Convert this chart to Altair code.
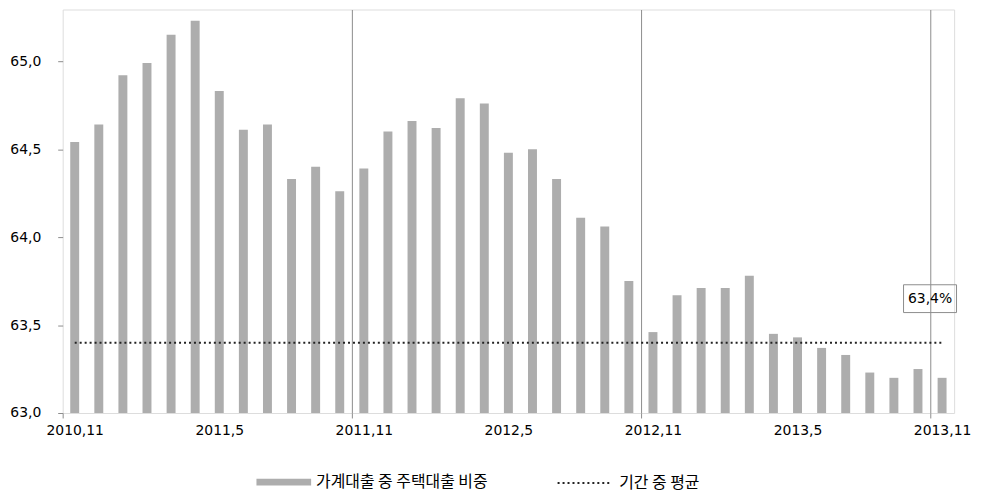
import json
import altair as alt
import pandas as pd

# ---- data ----
months = ["2010.11", "2010.12",
          "2011.1", "2011.2", "2011.3", "2011.4", "2011.5", "2011.6",
          "2011.7", "2011.8", "2011.9", "2011.10", "2011.11", "2011.12",
          "2012.1", "2012.2", "2012.3", "2012.4", "2012.5", "2012.6",
          "2012.7", "2012.8", "2012.9", "2012.10", "2012.11", "2012.12",
          "2013.1", "2013.2", "2013.3", "2013.4", "2013.5", "2013.6",
          "2013.7", "2013.8", "2013.9", "2013.10", "2013.11"]
values = [64.54, 64.64, 64.92, 64.99, 65.15, 65.23, 64.83, 64.61, 64.64, 64.33, 64.40, 64.26,
          64.39, 64.60, 64.66, 64.62, 64.79, 64.76, 64.48, 64.50, 64.33, 64.11, 64.06, 63.75,
          63.46, 63.67, 63.71, 63.71, 63.78, 63.45, 63.43, 63.37, 63.33, 63.23, 63.20, 63.25, 63.20]
avg_value = 63.4
label_months = ["2010.11", "2011.5", "2011.11", "2012.5", "2012.11", "2013.5", "2013.11"]
# year boundaries (ticks / grid drawn on the left edge of these months)
year_start_months = ["2011.11", "2012.11", "2013.11"]
y_ticks = [63.0, 63.5, 64.0, 64.5, 65.0]
bar_name = "가계대출 중 주택대출 비중"
avg_name = "기간 중 평균"
ann_text = (f"{avg_value:.1f}%").replace(".", ",")

# ---- style ----
BAR = "#adadad"
FRAME = "#8c8c8c"
DOT = "#222222"
W, H = 897, 406
Y_MIN = 63.0
Y_MAX = 63.0 + H / 177.0
ANN_Y = 63.65

# with tickBand="extent" a tick sits on the right edge of its band, so the
# boundary before month m is the tick of the month preceding m
boundary_months = [months[months.index(m) - 1] for m in year_start_months]

df = pd.DataFrame({"month": months, "value": values, "series": bar_name})
df["base"] = Y_MIN
avg_df = pd.DataFrame({"start": [months[0]], "end": [months[-1]],
                       "avg": [avg_value], "series": [avg_name]})
ann_df = pd.DataFrame({"month": [months[-1]], "y": [ANN_Y], "text": [ann_text]})

x_scale = alt.Scale(domain=months, paddingInner=0, paddingOuter=0)
y_scale = alt.Scale(domain=[Y_MIN, Y_MAX], nice=False, zero=False)

bnd = json.dumps(boundary_months)
lab = json.dumps(label_months)
x_axis = alt.Axis(
    tickBand="extent", title=None, domain=False,
    labelExpr="indexof(%s, datum.value) >= 0 ? replace(datum.label, '.', ',') : ''" % lab,
    labelAngle=0, labelOverlap=False,
    labelFont="DejaVu Sans", labelFontSize=14, labelColor="#000000", labelPadding=6,
    tickSize=5, tickColor=FRAME,
    tickOpacity={"condition": {"test": "datum.extra || indexof(%s, datum.value) >= 0" % bnd, "value": 1}, "value": 0},
    grid=True, gridColor=FRAME, gridWidth=1,
    gridOpacity={"condition": {"test": "indexof(%s, datum.value) >= 0" % bnd, "value": 1}, "value": 0},
)
y_axis = alt.Axis(
    values=y_ticks, title=None, domain=False, grid=False,
    labelExpr="replace(format(datum.value, '.1f'), '.', ',')",
    labelFont="DejaVu Sans", labelFontSize=14, labelColor="#000000", labelPadding=17,
    tickSize=5, tickColor=FRAME,
)

bars = alt.Chart(df).mark_bar(width=9).encode(
    x=alt.X("month:N", sort=months, scale=x_scale, axis=x_axis),
    y=alt.Y("value:Q", scale=y_scale, axis=y_axis),
    y2=alt.Y2("base:Q"),
    fill=alt.Fill("series:N", scale=alt.Scale(domain=[bar_name], range=[BAR]),
                  legend=alt.Legend(title=None, orient="none", legendX=195, legendY=448,
                                    symbolType="M-1,-0.125L1,-0.125L1,0.125L-1,0.125Z",
                                    symbolSize=3025, symbolStrokeWidth=0,
                                    labelFont="Noto Sans CJK KR", labelFontSize=16,
                                    labelLimit=0, labelColor="#000000", labelOffset=5, padding=0)),
)

avg_rule = alt.Chart(avg_df).mark_rule(color=DOT, strokeWidth=2).encode(
    x=alt.X("start:N", sort=months),
    x2=alt.X2("end:N"),
    y=alt.Y("avg:Q"),
    strokeDash=alt.StrokeDash("series:N", scale=alt.Scale(domain=[avg_name], range=[[2, 3]]),
                              legend=alt.Legend(title=None, orient="none", legendX=497, legendY=448,
                                                symbolType="stroke", symbolSize=3025,
                                                symbolStrokeWidth=2, symbolStrokeColor=DOT,
                                                labelFont="Noto Sans CJK KR", labelFontSize=16,
                                                labelLimit=0, labelColor="#000000", labelOffset=6, padding=0)),
)

ann_box = alt.Chart(ann_df).mark_point(
    shape="M-1,-0.525L1,-0.525L1,0.525L-1,0.525Z", size=2841, filled=False,
    stroke=FRAME, strokeWidth=1, opacity=1,
).encode(
    x=alt.X("month:N", sort=months, bandPosition=0),
    y=alt.Y("y:Q"),
)
ann_text_mark = alt.Chart(ann_df).mark_text(
    font="DejaVu Sans", fontSize=14, color="#000000", align="center", baseline="middle",
).encode(
    x=alt.X("month:N", sort=months, bandPosition=0),
    y=alt.Y("y:Q"),
    text="text:N",
)

chart = alt.layer(bars, avg_rule, ann_box, ann_text_mark).properties(
    width=W, height=H,
    autosize=alt.AutoSizeParams(type="none"),
    padding={"left": 55, "top": 0, "right": 20, "bottom": 84},
).configure_view(stroke=FRAME, strokeWidth=1).configure(background="white")

chart.save("out.html", embed_options={"renderer": "svg", "actions": False})
